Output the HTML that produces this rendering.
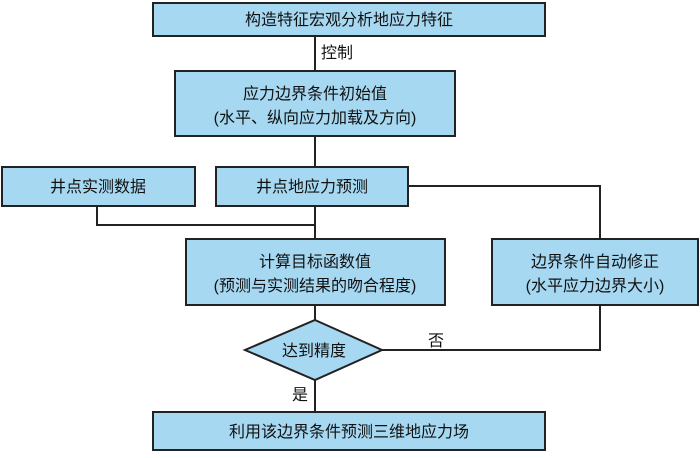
<!DOCTYPE html>
<html><head><meta charset="utf-8"><style>
body{margin:0;width:700px;height:453px;background:#fff;overflow:hidden}
svg text{font-family:"Liberation Sans","Noto Sans CJK SC",sans-serif;font-size:16px;fill:#111;text-anchor:middle}
</style></head><body>
<svg width="700" height="453" viewBox="0 0 700 453">
<g stroke="#222" stroke-width="2" fill="none">
<path d="M315 36V71M315 136V167M315 206V239M97 206V225H315M408 186H600V239M600 305V350H382M315 305V320M315 380V412"/>
</g>
<g fill="#a6d8f2" stroke="#222" stroke-width="2">
<rect x="153" y="3" width="392" height="33"/>
<rect x="175" y="71" width="280" height="65"/>
<rect x="2" y="167" width="193" height="39"/>
<rect x="216" y="167" width="192" height="39"/>
<rect x="186" y="239" width="259" height="66"/>
<rect x="492" y="239" width="206" height="66"/>
<polygon points="315,320 382,350 315,380 245,350"/>
<rect x="153" y="412" width="392" height="38"/>
</g>
<text x="349" y="25">构造特征宏观分析地应力特征</text>
<text x="337" y="58">控制</text>
<text x="315" y="99">应力边界条件初始值</text>
<text x="315" y="123">(水平、纵向应力加载及方向)</text>
<text x="98" y="192">井点实测数据</text>
<text x="312" y="192">井点地应力预测</text>
<text x="315" y="267">计算目标函数值</text>
<text x="315" y="291">(预测与实测结果的吻合程度)</text>
<text x="595" y="267">边界条件自动修正</text>
<text x="595" y="291">(水平应力边界大小)</text>
<text x="314" y="356">达到精度</text>
<text x="436" y="346">否</text>
<text x="300" y="400">是</text>
<text x="349" y="437">利用该边界条件预测三维地应力场</text>
</svg>
</body></html>
